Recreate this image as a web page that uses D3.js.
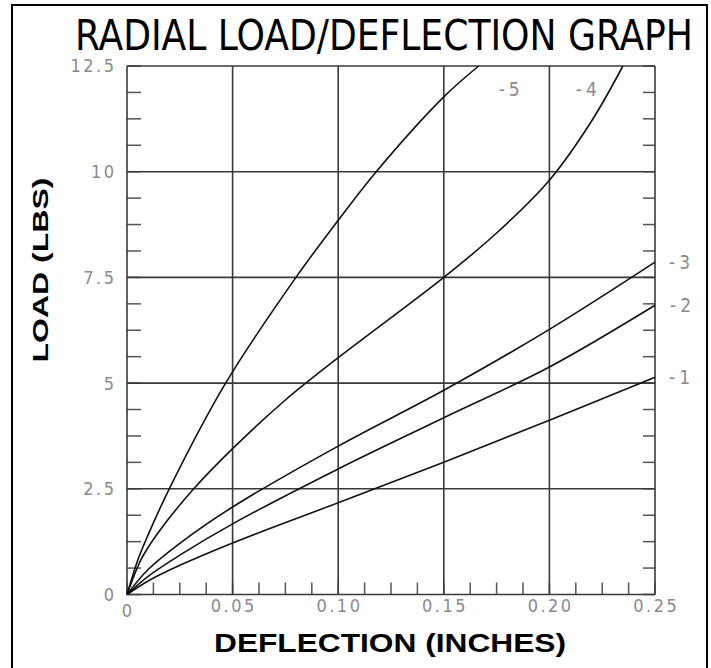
<!DOCTYPE html>
<html>
<head>
<meta charset="utf-8">
<script src="https://cdn.jsdelivr.net/npm/d3@7"></script>
<style>
    body { margin: 0; background: #fff; }
    svg { display: block; }
    .tick-label { font-family: "Liberation Sans Narrow", "DejaVu Sans Condensed", sans-serif; fill: #8a8a8a; font-size: 18px; letter-spacing: 2.5px; }
    .axis-title { font-family: "Liberation Sans", Arial, sans-serif; font-weight: bold; fill: #000; }
</style>
</head>
<body>
<svg id="chart" width="711" height="668"></svg>
<script>
// Deflection (inches) at which each load reading was taken
const deflection5 = [0, 0.005, 0.01, 0.02, 0.0467, 0.08, 0.10, 0.118, 0.15, 0.1665];
const load5 = [0, 0.8, 1.41, 2.5, 5.0, 7.5, 8.85, 10.0, 11.77, 12.5];

const deflection4 = [0, 0.007, 0.015, 0.0316, 0.05, 0.075, 0.10, 0.15, 0.175, 0.20, 0.22, 0.2348];
const load4 = [0, 0.86, 1.48, 2.5, 3.45, 4.6, 5.6, 7.5, 8.55, 9.8, 11.2, 12.5];

const deflection3 = [0, 0.01, 0.025, 0.05, 0.10, 0.15, 0.20, 0.25];
const load3 = [0, 0.59, 1.21, 2.07, 3.51, 4.83, 6.27, 7.86];

const deflection2 = [0, 0.01, 0.025, 0.05, 0.10, 0.15, 0.20, 0.25];
const load2 = [0, 0.43, 0.93, 1.67, 2.97, 4.18, 5.38, 6.84];

const deflection1 = [0, 0.01, 0.025, 0.05, 0.10, 0.15, 0.20, 0.25];
const load1 = [0, 0.32, 0.69, 1.22, 2.17, 3.13, 4.12, 5.14];

const seriesNames = ["-5", "-4", "-3", "-2", "-1"];

const xTicks = [0, 0.05, 0.10, 0.15, 0.20, 0.25];
const xTickLabels = ["0", "0.05", "0.10", "0.15", "0.20", "0.25"];
const yTicks = [0, 2.5, 5, 7.5, 10, 12.5];
const yTickLabels = ["0", "2.5", "5", "7.5", "10", "12.5"];

const title = "RADIAL LOAD/DEFLECTION GRAPH";
const xTitle = "DEFLECTION  (INCHES)";
const yTitle = "LOAD  (LBS)";

let series = [
    {name: seriesNames[0], x: deflection5, y: load5, label: {at: [0.176, 11.95], dx: 0}},
    {name: seriesNames[1], x: deflection4, y: load4, label: {at: [0.2125, 11.95], dx: 0}},
    {name: seriesNames[2], x: deflection3, y: load3, label: {at: null, dx: 14}},
    {name: seriesNames[3], x: deflection2, y: load2, label: {at: null, dx: 15}},
    {name: seriesNames[4], x: deflection1, y: load1, label: {at: null, dx: 14}}
].map(s => ({...s, points: s.x.map((d, i) => [d, s.y[i]])}));

let svg = d3.select("#chart");

// Outer frame
svg.append("rect")
    .attr("x", 12).attr("y", 5)
    .attr("width", 695).attr("height", 672)
    .attr("fill", "none")
    .attr("stroke", "#000")
    .attr("stroke-width", 2);

let scale = {
    x: d3.scaleLinear().domain([0, 0.25]).range([127, 655]),
    y: d3.scaleLinear().domain([0, 12.5]).range([594.5, 66])
};

// Title
svg.append("text")
    .attr("x", 75)
    .attr("y", 50)
    .attr("textLength", 618)
    .attr("lengthAdjust", "spacingAndGlyphs")
    .style("font-family", "\"Liberation Sans Narrow\", \"DejaVu Sans Condensed\", sans-serif")
    .style("font-size", "43px")
    .style("fill", "#000")
    .text(title);

let grid = svg.append("g").attr("class", "grid");

// Minor ticks (4 per major division) on the left, right and bottom edges
let minorY = d3.range(0, 12.5 + 1e-9, 0.625);
let minorX = d3.range(0, 0.25 + 1e-9, 0.0125);

grid.selectAll(".ml")
    .data(minorY)
    .enter()
    .append("line")
    .attr("x1", scale.x(0)).attr("x2", scale.x(0) + 14)
    .attr("y1", d => scale.y(d)).attr("y2", d => scale.y(d))
    .attr("stroke", "#555").attr("stroke-width", 1.5);

grid.selectAll(".mr")
    .data(minorY)
    .enter()
    .append("line")
    .attr("x1", scale.x(0.25) - 12).attr("x2", scale.x(0.25))
    .attr("y1", d => scale.y(d)).attr("y2", d => scale.y(d))
    .attr("stroke", "#555").attr("stroke-width", 1.5);

grid.selectAll(".mb")
    .data(minorX)
    .enter()
    .append("line")
    .attr("x1", d => scale.x(d)).attr("x2", d => scale.x(d))
    .attr("y1", scale.y(0) - 12).attr("y2", scale.y(0))
    .attr("stroke", "#555").attr("stroke-width", 1.5);

// Major grid
grid.selectAll(".gx")
    .data(xTicks)
    .enter()
    .append("line")
    .attr("x1", d => scale.x(d)).attr("x2", d => scale.x(d))
    .attr("y1", scale.y(0)).attr("y2", scale.y(12.5))
    .attr("stroke", "#3a3a3a").attr("stroke-width", 1.6);

grid.selectAll(".gy")
    .data(yTicks)
    .enter()
    .append("line")
    .attr("x1", scale.x(0)).attr("x2", scale.x(0.25))
    .attr("y1", d => scale.y(d)).attr("y2", d => scale.y(d))
    .attr("stroke", "#3a3a3a").attr("stroke-width", 1.6);

// Tick labels
svg.selectAll(".ylab")
    .data(yTicks)
    .enter()
    .append("text")
    .attr("class", "tick-label")
    .attr("x", 114 + 2.5)
    .attr("y", d => scale.y(d))
    .attr("dy", "0.36em")
    .attr("text-anchor", "end")
    .text((d, i) => yTickLabels[i]);

svg.selectAll(".xlab")
    .data(xTicks)
    .enter()
    .append("text")
    .attr("class", "tick-label")
    .attr("x", d => scale.x(d) + 1.25)
    .attr("y", (d, i) => i === 0 ? 617 : 612)
    .attr("text-anchor", "middle")
    .text((d, i) => xTickLabels[i]);

// Curves
let line = d3.line()
    .x(d => scale.x(d[0]))
    .y(d => scale.y(d[1]))
    .curve(d3.curveCatmullRom.alpha(0.5));

svg.append("g")
    .selectAll("path")
    .data(series)
    .enter()
    .append("path")
    .attr("d", d => line(d.points))
    .attr("fill", "none")
    .attr("stroke", "#111")
    .attr("stroke-width", 1.6);

// Curve labels
svg.append("g")
    .selectAll("text")
    .data(series)
    .enter()
    .append("text")
    .attr("class", "tick-label")
    .style("font-size", "19px")
    .style("letter-spacing", "4px")
    .attr("x", d => d.label.at ? scale.x(d.label.at[0]) : scale.x(0.25) + d.label.dx)
    .attr("y", d => d.label.at ? scale.y(d.label.at[1]) : scale.y(d.points[d.points.length - 1][1]))
    .attr("dy", "0.36em")
    .text(d => d.name);

// Axis titles
svg.append("text")
    .attr("class", "axis-title")
    .attr("x", 390)
    .attr("y", 652)
    .attr("text-anchor", "middle")
    .attr("textLength", 352)
    .attr("lengthAdjust", "spacingAndGlyphs")
    .style("font-size", "26px")
    .text(xTitle);

svg.append("text")
    .attr("class", "axis-title")
    .attr("transform", "translate(48, 270) rotate(-90)")
    .attr("text-anchor", "middle")
    .attr("textLength", 185)
    .attr("lengthAdjust", "spacingAndGlyphs")
    .style("font-size", "22px")
    .text(yTitle);
</script>
</body>
</html>
